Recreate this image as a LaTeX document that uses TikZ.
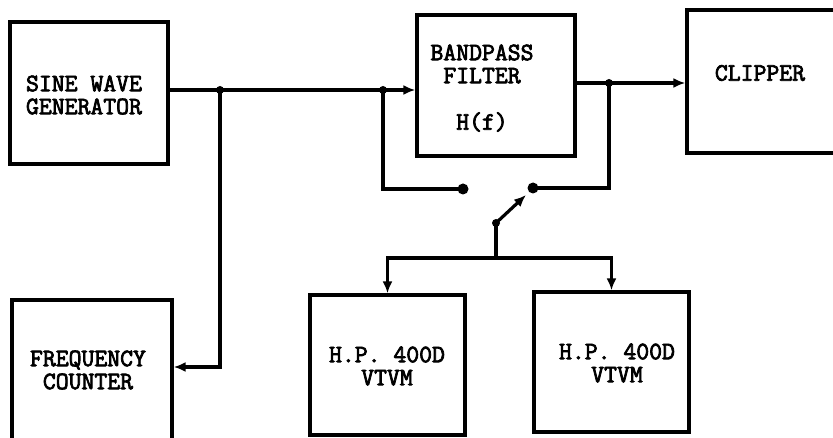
\documentclass[tikz,border=0pt]{standalone}
\usepackage{fontspec}
\newfontfamily\twfont{Latin Modern Mono}[FakeBold=3]
\usetikzlibrary{arrows.meta}
\begin{document}
\begin{tikzpicture}[x=1pt,y=-1pt, line width=3.2pt,
  blk/.style={draw, line width=3.3pt, inner sep=0pt},
  lbl/.style={font=\twfont\fontsize{25}{23}\selectfont, align=center, inner sep=0pt},
  arr/.style={-{Latex[length=12pt,width=10pt]}},
  jdot/.style={circle, fill, inner sep=0pt, minimum size=8pt},
  cdot/.style={circle, fill, inner sep=0pt, minimum size=11pt}]
\useasboundingbox (0,0) rectangle (833,438);
\clip (0,0) rectangle (833,438);
% blocks
\node[blk, minimum width=158pt, minimum height=142pt] (sine) at (89,93) {};
\node[blk, minimum width=158pt, minimum height=141pt] (bp) at (496,85.5) {};
\node[blk, minimum width=163pt, minimum height=143pt] (clip) at (768.5,81.5) {};
\node[blk, minimum width=160pt, minimum height=160pt] (fc) at (92,380) {};
\node[blk, minimum width=155pt, minimum height=140pt] (vt1) at (387.5,365) {};
\node[blk, minimum width=155pt, minimum height=140pt] (vt2) at (611.5,362) {};
% labels
\node[lbl] (sinet) at (84,95) {SINE WAVE\\GENERATOR};
\node[lbl] (bpt) at (482,64) {BANDPASS\\FILTER};
\node[lbl] (bph) at (482,122) {H(f)};
\node[lbl] (clipt) at (760,73) {CLIPPER};
\node[lbl] (fct) at (88,370) {FREQUENCY\\COUNTER};
\node[lbl] (vt1t) at (387,366) {H.P. 400D\\VTVM};
\node[lbl] (vt2t) at (617,363) {H.P. 400D\\VTVM};
% coordinates
\coordinate (j1) at (220,90);
\coordinate (j2) at (383,90);
\coordinate (j3) at (609,83);
\coordinate (fcin) at (172,367);
\coordinate (swL) at (463,189);
\coordinate (swR) at (533,188);
\coordinate (piv) at (496,223);
\coordinate (swtip) at (526,195);
\coordinate (bus) at (496,258);
% connectors
\draw[arr] (sine.east |- j1) -- (bp.west |- j1);
\draw[arr] (j1) |- (fc.east |- fcin);
\draw[arr] (bp.east |- j3) -- (clip.west |- j3);
\draw (j2) |- (swL);
\draw (j3) |- (swR);
\draw[arr] (piv) -- (swtip);
\draw (piv) -- (bus);
\draw[arr] (bus) -| (vt1.north);
\draw[arr] (bus) -| (vt2.north);
% dots
\node[jdot] (d1) at (j1) {};
\node[jdot] (d2) at (j2) {};
\node[jdot] (d3) at (j3) {};
\node[jdot] (d4) at (piv) {};
\node[cdot] (cL) at (swL) {};
\node[cdot] (cR) at (swR) {};
\end{tikzpicture}
\end{document}
